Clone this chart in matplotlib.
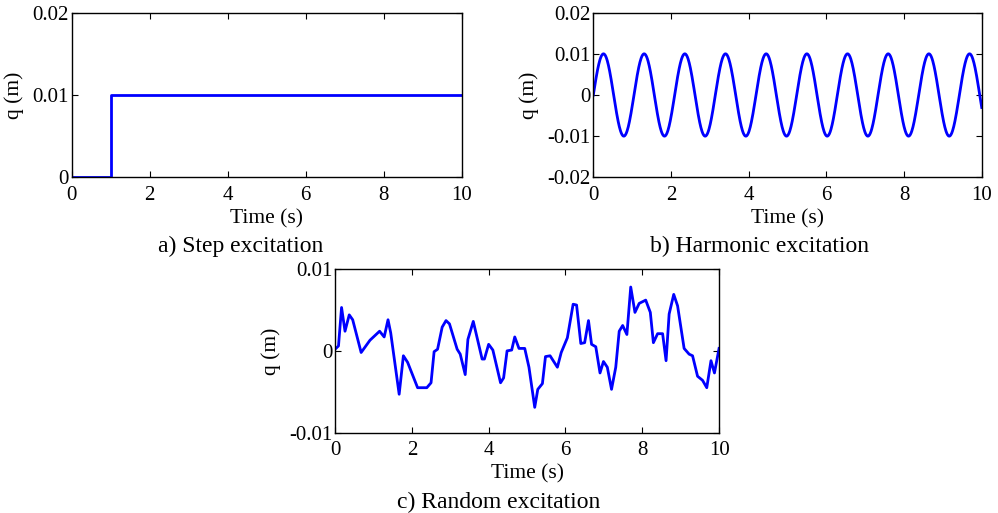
import numpy as np
import matplotlib
matplotlib.use("Agg")
import matplotlib.pyplot as plt

plt.rcParams['font.family'] = ['Liberation Serif', 'DejaVu Serif']
plt.rcParams['axes.unicode_minus'] = False

# a) step
step_t = [0, 1, 1, 10]
step_q = [0, 0, 0.01, 0.01]

# b) harmonic (amplitude and angular frequency read from peaks)
harm_amp = 0.01
harm_omega = 6.0
harm_t = np.linspace(0, 10, 1001)

# c) random (q in mm -> m below)
rand_t = [0, 0.09, 0.17, 0.26, 0.37, 0.46, 0.68, 0.91, 1.16, 1.28, 1.38, 1.45,
          1.67, 1.78, 1.89, 2.15, 2.39, 2.50, 2.58, 2.67, 2.79, 2.89, 2.98,
          3.18, 3.26, 3.39, 3.46, 3.60, 3.83, 3.89, 4.00, 4.11, 4.31, 4.39,
          4.48, 4.60, 4.68, 4.79, 4.94, 5.05, 5.20, 5.28, 5.40, 5.48, 5.60,
          5.79, 5.89, 6.05, 6.20, 6.29, 6.40, 6.50, 6.60, 6.68, 6.79, 6.90,
          6.99, 7.09, 7.20, 7.31, 7.40, 7.49, 7.60, 7.70, 7.81, 7.92, 8.09,
          8.21, 8.29, 8.40, 8.53, 8.62, 8.70, 8.82, 8.92, 9.09, 9.22, 9.31,
          9.44, 9.57, 9.68, 9.79, 9.88, 10.0]
rand_q_mm = [0.2, 0.6, 5.3, 2.4, 4.4, 3.8, -0.2, 1.3, 2.4, 1.7, 3.8, 2.2,
             -5.3, -0.6, -1.4, -4.5, -4.5, -3.9, -0.1, 0.2, 2.9, 3.7, 3.3,
             0.2, -0.4, -2.9, 1.4, 3.6, -1.0, -1.0, 0.8, 0.1, -3.9, -3.3,
             0.0, 0.1, 1.7, 0.3, 0.3, -2.0, -6.9, -4.7, -4.0, -0.7, -0.6,
             -2.0, -0.2, 1.6, 5.7, 5.6, 0.9, 1.0, 3.7, 0.8, 0.5, -2.7,
             -1.3, -2.0, -4.7, -2.0, 2.4, 3.1, 2.0, 7.8, 4.7, 5.8, 6.2,
             4.7, 1.0, 2.1, 2.1, -1.2, 4.5, 6.9, 5.5, 0.3, -0.4, -0.6,
             -3.1, -3.6, -4.5, -1.2, -2.7, 0.3]

x_ticks = [0, 2, 4, 6, 8, 10]
blue = (0, 0, 1)

fig = plt.figure(figsize=(9.98, 5.13), dpi=100)
ax_a = fig.add_axes([0.0718, 0.6544, 0.3908, 0.3209])
ax_b = fig.add_axes([0.5945, 0.6544, 0.3892, 0.3209])
ax_c = fig.add_axes([0.3357, 0.1565, 0.3848, 0.3191])


def style(ax, yticks, ylabels):
    ax.set_xlim(0, 10)
    ax.set_ylim(yticks[0], yticks[-1])
    ax.set_xticks(x_ticks)
    ax.set_yticks(yticks)
    ax.set_yticklabels(ylabels)
    ax.tick_params(direction='in', top=True, right=True, length=4,
                   labelsize=15)
    ax.tick_params(axis='x', pad=6)
    ax.tick_params(axis='y', pad=2)
    ax.set_xlabel('Time (s)', fontsize=15.5, labelpad=3)
    ax.set_ylabel('q (m)', fontsize=15.5, labelpad=6)
    for s in ax.spines.values():
        s.set_linewidth(1.0)


ax_a.plot(step_t, step_q, color=blue, lw=2)
style(ax_a, [0, 0.01, 0.02], ['0', '0.01', '0.02'])

ax_b.plot(harm_t, harm_amp * np.sin(harm_omega * harm_t), color=blue, lw=2)
style(ax_b, [-0.02, -0.01, 0, 0.01, 0.02],
      ['-0.02', '-0.01', '0', '0.01', '0.02'])

ax_c.plot(rand_t, np.array(rand_q_mm) / 1000, color=blue, lw=2)
style(ax_c, [-0.01, 0, 0.01], ['-0.01', '0', '0.01'])

fig.text(241 / 998, 1 - 246 / 513, 'a) Step excitation', ha='center', va='center', fontsize=17)
fig.text(759 / 998, 1 - 246 / 513, 'b) Harmonic excitation', ha='center', va='center', fontsize=17)
fig.text(499 / 998, 1 - 502 / 513, 'c) Random excitation', ha='center', va='center', fontsize=17)

fig.savefig('out.png', dpi=100)
